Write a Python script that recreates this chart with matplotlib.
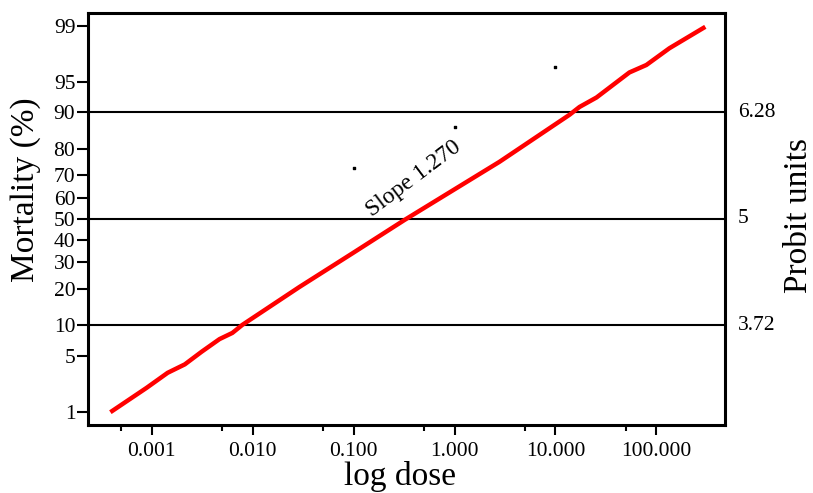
import matplotlib
matplotlib.use('Agg')
import matplotlib.pyplot as plt
import numpy as np
from statistics import NormalDist

plt.rcParams['font.family'] = ['Liberation Serif', 'DejaVu Serif']

# fitted probit line (dose, % mortality)
dose = [0.00039, 0.00089, 0.00144, 0.00213, 0.00313, 0.0047, 0.0063, 0.0079,
        0.029, 0.098, 0.32, 2.79, 13.8, 17.3, 25.5, 54, 79.5, 134.5, 305]
mort = [1.0, 2.1, 3.2, 4.0, 5.5, 7.4, 8.5, 10.1,
        20.6, 34.0, 49.5, 75.4, 89.5, 91.1, 92.8, 96.1, 96.8, 98.0, 98.96]

# observed points
obs_dose = [0.1, 1.0, 10.0]
obs_mort = [73, 86.6, 96.6]

ref_levels = [10, 50, 90]
ref_labels = ['3.72', '5', '6.28']

y_ticks = [1, 5, 10, 20, 30, 40, 50, 60, 70, 80, 90, 95, 99]
x_ticks = [0.001, 0.01, 0.1, 1, 10, 100]
x_labels = ['0.001', '0.010', '0.100', '1.000', '10.000', '100.000']

nd = NormalDist()
_fwd = np.vectorize(lambda p: nd.inv_cdf(min(max(p / 100.0, 1e-9), 1 - 1e-9)), otypes=[float])
_inv = np.vectorize(lambda z: nd.cdf(z) * 100.0, otypes=[float])


def forward(p):
    return _fwd(np.asarray(p, dtype=float))


def inverse(z):
    return _inv(np.asarray(z, dtype=float))


fig = plt.figure(figsize=(8.13, 4.93), dpi=100)
ax = fig.add_axes([0.108, 0.138, 0.784, 0.836])
ax.set_xscale('log')
ax.set_yscale('function', functions=(forward, inverse))

for lv in ref_levels:
    ax.axhline(lv, color='black', lw=1.5, zorder=1)

ax.plot(dose, mort, color='#ff0000', lw=3.2, solid_capstyle='butt', zorder=3)
ax.scatter(obs_dose, obs_mort, marker='s', s=4, color='black', zorder=2)

ax.set_xlim(0.000233, 480)
ax.set_ylim(float(inverse(-2.48)), float(inverse(2.48)))

ax.set_yticks(y_ticks)
ax.set_yticklabels([str(v) for v in y_ticks])
ax.set_xticks(x_ticks)
ax.set_xticklabels(x_labels)
ax.set_xticks([5e-4, 5e-3, 5e-2, 0.5, 5, 50], minor=True)
ax.set_xticklabels([], minor=True)
ax.yaxis.set_minor_locator(matplotlib.ticker.NullLocator())

ax.tick_params(axis='y', which='major', length=8, width=1.5, labelsize=15.5, pad=1)
ax.tick_params(axis='x', which='major', length=7, width=1.5, labelsize=15.5, pad=5)
ax.tick_params(axis='x', which='minor', length=4, width=1.5)
for sp in ax.spines.values():
    sp.set_linewidth(2.2)

trans = matplotlib.transforms.blended_transform_factory(ax.transAxes, ax.transData)
for lv, lab in zip(ref_levels, ref_labels):
    ax.text(1.02, lv, lab, transform=trans, ha='left', va='center', fontsize=15.5)

ax.text(0.39, 68.5, 'Slope 1.270', rotation=37, ha='center', va='center', fontsize=17)

fig.text(0.492, 0.003, 'log dose', ha='center', va='bottom', fontsize=24)
fig.text(0.031, 0.615, 'Mortality (%)', rotation=90, ha='center', va='center', fontsize=24)
fig.text(0.983, 0.563, 'Probit units', rotation=90, ha='center', va='center', fontsize=24)

fig.savefig('out.png', dpi=100)
